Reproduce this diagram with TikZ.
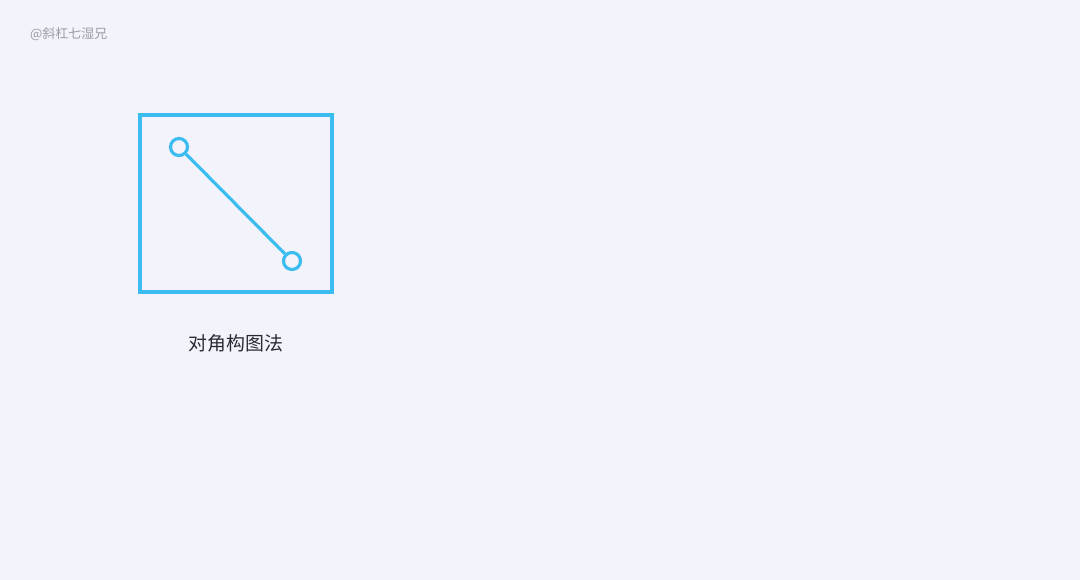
\documentclass[tikz,border=0pt]{standalone}
\usepackage{fontspec}
\usepackage{xcolor}
\newfontfamily\cjk{Noto Sans CJK SC}
\definecolor{bgpale}{HTML}{F3F4FB}
\definecolor{skyline}{HTML}{3CBDF0}
\definecolor{markgray}{HTML}{9C9CAA}
\definecolor{captext}{HTML}{2A2A35}

\begin{document}
\begin{tikzpicture}[x=1bp,y=-1bp]
\fill[bgpale] (0,0) rectangle (1080,580);
\useasboundingbox (0,0) rectangle (1080,580);
\node[anchor=west,font=\cjk\fontsize{13}{15}\selectfont,text=markgray,inner sep=0] (mark) at (30,34) {@斜杠七湿兄};
\draw[skyline,line width=3.2bp] (140,115) rectangle (332,292);
\node[circle,draw=skyline,line width=3.2bp,minimum size=17bp,inner sep=0,fill=bgpale] (top) at (179,147) {};
\node[circle,draw=skyline,line width=3.2bp,minimum size=17bp,inner sep=0,fill=bgpale] (bottom) at (292,261) {};
\draw[skyline,line width=3.2bp] (top) -- (bottom);
\node[font=\cjk\fontsize{19}{21}\selectfont,text=captext,inner sep=0] (caption) at (236,343) {对角构图法};
\end{tikzpicture}
\end{document}
